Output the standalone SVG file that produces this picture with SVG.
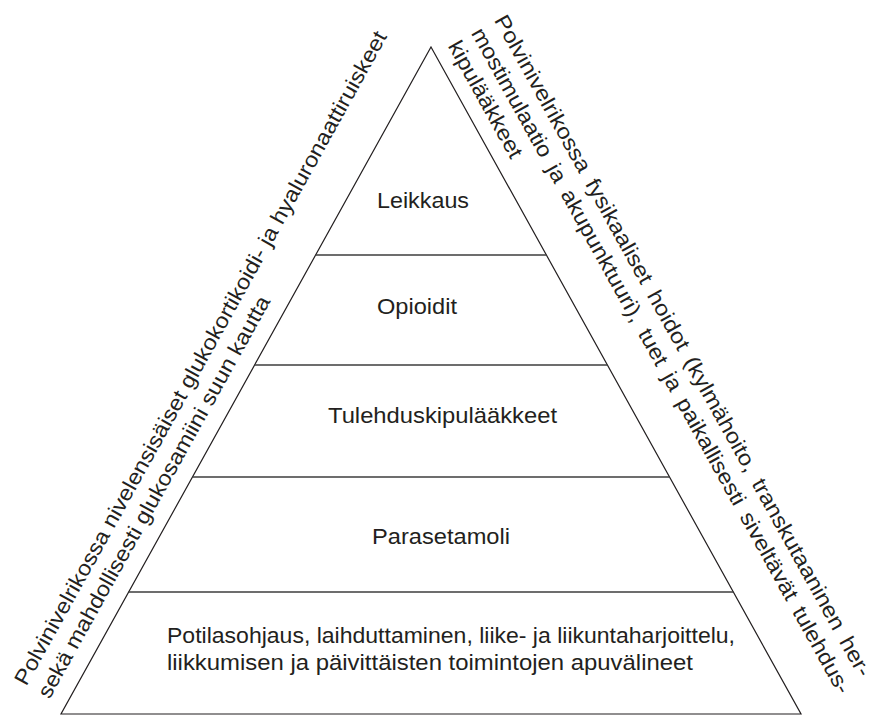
<svg xmlns="http://www.w3.org/2000/svg" width="876" height="716" viewBox="0 0 876 716">
<style>
.t{font-family:"Liberation Sans",Arial,Helvetica,sans-serif;font-size:21.5px;fill:#231f20}
.edge{fill:none;stroke:#231f20;stroke-width:1.2}
.div{stroke:#3c3c3c;stroke-width:1.6}
</style>
<rect width="876" height="716" fill="#fff"/>
<g id="pyramid">
<polygon class="edge" points="431,47 801,714 61,714"/>
<line class="div" x1="315.6" y1="255" x2="546.4" y2="255"/>
<line class="div" x1="254.6" y1="365" x2="607.4" y2="365"/>
<line class="div" x1="192.5" y1="477" x2="669.5" y2="477"/>
<line class="div" x1="128.7" y1="592" x2="733.3" y2="592"/>
</g>
<g id="level-leikkaus"><text class="t" x="377" y="207.5" textLength="92" lengthAdjust="spacingAndGlyphs">Leikkaus</text></g>
<g id="level-opioidit"><text class="t" x="377" y="313.5" textLength="80" lengthAdjust="spacingAndGlyphs">Opioidit</text></g>
<g id="level-tulehduskipulaakkeet"><text class="t" x="328" y="423" textLength="229" lengthAdjust="spacingAndGlyphs">Tulehduskipulääkkeet</text></g>
<g id="level-parasetamoli"><text class="t" x="372" y="544" textLength="138" lengthAdjust="spacingAndGlyphs">Parasetamoli</text></g>
<g id="level-perusta">
<text class="t" x="167" y="643" textLength="568" lengthAdjust="spacingAndGlyphs">Potilasohjaus, laihduttaminen, liike- ja liikuntaharjoittelu,</text>
<text class="t" x="167" y="670" textLength="526" lengthAdjust="spacingAndGlyphs">liikkumisen ja päivittäisten toimintojen apuvälineet</text>
</g>
<g id="side-left" transform="translate(61,714) rotate(-60.96)">
<text class="t" x="7" y="-43.5" textLength="744" lengthAdjust="spacingAndGlyphs">Polvinivelrikossa nivelensisäiset glukokortikoidi- ja hyaluronaattiruiskeet</text>
<text class="t" x="7" y="-17" textLength="456" lengthAdjust="spacingAndGlyphs">sekä mahdollisesti glukosamiini suun kautta</text>
</g>
<g id="side-right" transform="translate(431,47) rotate(60.96)">
<text class="t" x="7" y="-68" textLength="753" lengthAdjust="spacingAndGlyphs" word-spacing="4">Polvinivelrikossa fysikaaliset hoidot (kylmähoito, transkutaaninen her-</text>
<text class="t" x="7" y="-41.5" textLength="758" lengthAdjust="spacingAndGlyphs" word-spacing="4">mostimulaatio ja akupunktuuri), tuet ja paikallisesti siveltävät tulehdus-</text>
<text class="t" x="7" y="-15" textLength="130.6" lengthAdjust="spacingAndGlyphs">kipulääkkeet</text>
</g>
</svg>
